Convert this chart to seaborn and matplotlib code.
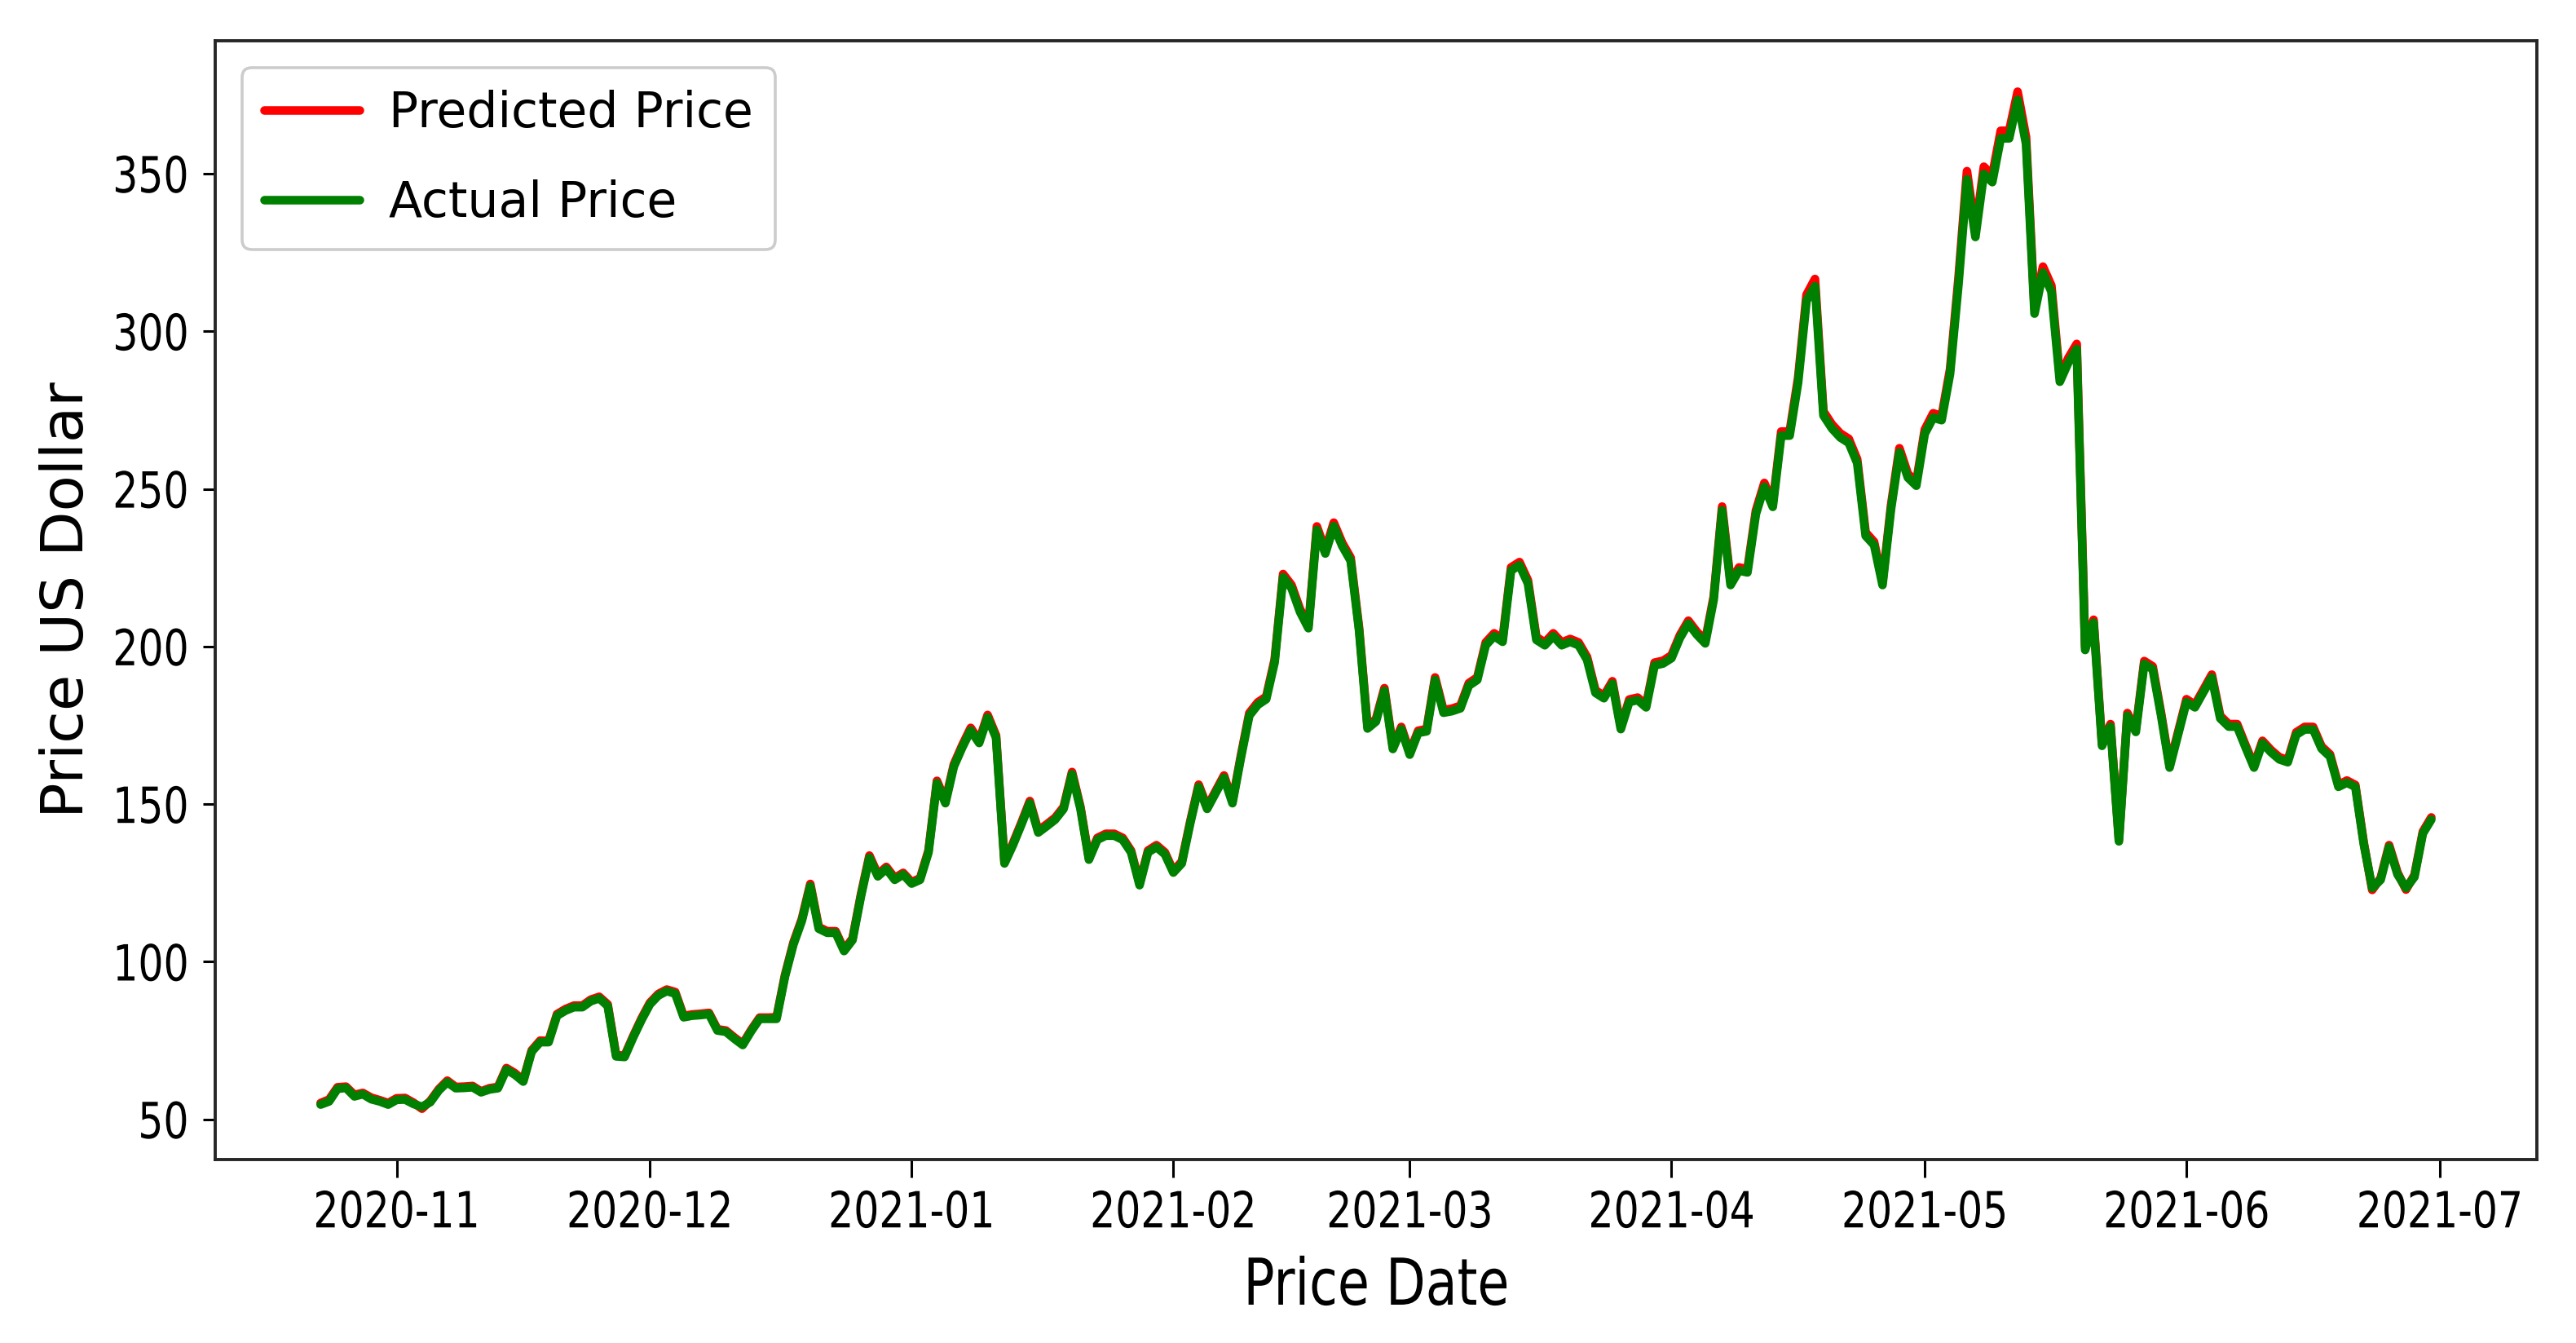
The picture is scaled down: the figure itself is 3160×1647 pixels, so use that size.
# Predicted vs actual price line chart (seaborn)
import pandas as pd
import seaborn as sns
import matplotlib
matplotlib.use('Agg')
import matplotlib.pyplot as plt
import matplotlib.dates as mdates
import matplotlib.patheffects as pe
from matplotlib.transforms import Affine2D

# daily prices, 2020-10-23 .. 2021-06-30
start_date = '2020-10-23'
end_date = '2021-06-30'

actual_price = [
    54.7, 55.7, 59.7, 60.0, 57.3, 58.0, 56.4, 55.7, 54.7, 56.2,
    56.3, 54.9, 54.0, 55.5, 59.2, 61.8, 59.9, 60.0, 60.2, 58.6,
    59.5, 59.9, 65.8, 64.2, 62.0, 71.5, 74.5, 74.5, 82.9, 84.5,
    85.6, 85.6, 87.5, 88.4, 86.0, 70.0, 69.8, 75.9, 81.5, 86.5,
    89.3, 90.7, 89.9, 82.4, 82.9, 83.1, 83.4, 78.2, 77.8, 75.6,
    73.6, 78.0, 81.9, 81.9, 81.9, 95.3, 105.5, 113.0, 124.0, 110.5,
    109.2, 109.2, 103.4, 106.9, 120.8, 133.0, 127.1, 129.5, 126.0, 127.7,
    124.8, 126.0, 134.7, 156.7, 150.3, 161.9, 168.0, 173.4, 169.4, 177.5,
    171.1, 131.2, 137.0, 143.5, 150.3, 141.0, 143.0, 145.1, 148.5, 159.5,
    148.5, 132.4, 138.7, 140.0, 140.0, 138.7, 134.7, 124.3, 134.7, 136.4,
    134.1, 128.3, 131.2, 143.9, 155.5, 148.5, 153.5, 158.4, 150.3, 164.7,
    178.1, 181.5, 183.3, 195.0, 222.0, 218.5, 211.0, 205.8, 237.0, 229.5,
    238.2, 231.9, 227.2, 205.0, 174.0, 176.2, 186.0, 167.5, 173.8, 165.7,
    172.6, 173.1, 189.4, 179.0, 179.5, 180.4, 187.6, 189.4, 200.4, 203.3,
    201.5, 224.1, 225.8, 220.0, 202.1, 200.4, 203.3, 200.4, 201.5, 200.4,
    195.8, 185.3, 183.6, 188.2, 173.8, 182.4, 183.0, 180.7, 194.0, 194.6,
    196.3, 202.7, 207.3, 203.8, 201.0, 214.8, 243.2, 219.5, 224.1, 223.5,
    242.0, 250.7, 244.3, 266.9, 266.9, 283.7, 309.7, 314.3, 273.3, 269.2,
    266.3, 264.6, 258.2, 235.1, 232.2, 219.5, 243.5, 261.6, 253.6, 251.0,
    267.5, 272.6, 271.8, 286.5, 315.0, 348.2, 329.9, 349.9, 347.3, 361.2,
    361.2, 373.4, 359.4, 305.6, 318.6, 312.6, 284.0, 290.0, 294.4, 198.9,
    207.6, 168.5, 174.6, 138.2, 178.1, 172.9, 194.5, 192.8, 178.0, 161.6,
    172.0, 182.4, 180.7, 185.5, 190.2, 177.2, 174.6, 174.6, 168.0, 161.6,
    169.4, 166.5, 164.2, 163.3, 172.0, 173.7, 173.7, 167.6, 165.1, 155.5,
    156.8, 155.5, 137.3, 123.4, 126.0, 136.4, 127.7, 123.4, 126.9, 140.7,
    145.1,
]

predicted_price = [
    55.2, 56.3, 60.2, 60.4, 57.8, 58.4, 56.9, 56.1, 55.2, 56.7,
    56.8, 55.3, 53.4, 55.9, 59.6, 62.3, 60.3, 60.4, 60.6, 58.9,
    59.9, 60.3, 66.3, 64.7, 62.4, 71.9, 75.0, 74.9, 83.4, 85.0,
    86.1, 86.1, 88.0, 88.9, 86.5, 70.4, 70.2, 76.3, 82.0, 87.0,
    89.8, 91.2, 90.4, 82.8, 83.3, 83.5, 83.8, 78.6, 78.2, 76.0,
    74.0, 78.4, 82.3, 82.3, 82.4, 95.8, 106.1, 113.6, 124.7, 111.0,
    109.7, 109.7, 103.8, 107.4, 121.4, 133.7, 127.7, 130.1, 126.6, 128.2,
    125.3, 126.5, 135.3, 157.4, 151.0, 162.6, 168.7, 174.2, 170.1, 178.3,
    171.8, 131.7, 137.6, 144.1, 151.0, 141.6, 143.6, 145.7, 149.1, 160.2,
    149.1, 132.9, 139.3, 140.6, 140.6, 139.3, 135.2, 124.8, 135.3, 137.0,
    134.7, 128.8, 131.8, 144.5, 156.2, 149.1, 154.1, 159.1, 150.9, 165.4,
    178.9, 182.3, 184.1, 195.9, 223.0, 219.5, 211.9, 206.7, 238.1, 230.5,
    239.3, 232.9, 228.2, 205.9, 174.7, 177.0, 186.8, 168.2, 174.5, 166.4,
    173.3, 173.8, 190.2, 179.8, 180.3, 181.2, 188.4, 190.2, 201.3, 204.2,
    202.4, 225.1, 226.8, 221.0, 203.0, 201.3, 204.2, 201.3, 202.4, 201.3,
    196.7, 186.1, 184.4, 189.0, 174.5, 183.2, 183.8, 181.5, 194.9, 195.5,
    197.2, 203.6, 208.2, 204.7, 201.9, 215.8, 244.4, 220.5, 225.1, 224.5,
    243.1, 251.9, 245.4, 268.2, 268.2, 285.2, 311.6, 316.6, 274.6, 270.5,
    267.6, 265.9, 259.4, 236.2, 233.2, 220.5, 244.7, 262.9, 254.8, 252.2,
    268.8, 274.0, 273.1, 288.0, 317.0, 350.8, 331.9, 352.2, 349.5, 363.6,
    363.6, 376.0, 361.6, 307.2, 320.5, 314.5, 285.5, 291.5, 296.0, 199.8,
    208.5, 169.2, 175.4, 138.7, 178.9, 173.7, 195.4, 193.7, 178.8, 162.3,
    172.8, 183.3, 181.5, 186.3, 191.1, 178.0, 175.4, 175.4, 168.7, 162.3,
    170.1, 167.2, 164.9, 164.0, 172.8, 174.5, 174.5, 168.3, 165.8, 156.1,
    157.5, 156.1, 137.8, 122.8, 126.6, 137.0, 128.3, 122.9, 127.5, 141.3,
    145.8,
]

df = pd.DataFrame({
    'Price Date': pd.date_range(start_date, end_date, freq='D'),
    'Predicted Price': predicted_price,
    'Actual Price': actual_price,
})


class Squeeze(pe.AbstractPathEffect):
    # the reference text is drawn narrow, so squeeze glyphs sideways
    def __init__(self, sx=0.8, anchor='center'):
        super().__init__()
        self.sx = sx
        self.anchor = anchor

    def draw_path(self, renderer, gc, tpath, affine, rgbFace=None):
        bb = tpath.get_extents(affine)
        x0 = {'left': bb.x0, 'right': bb.x1, 'center': (bb.x0 + bb.x1) / 2}[self.anchor]
        shrink = Affine2D().translate(-x0, 0).scale(self.sx, 1).translate(x0, 0)
        renderer.draw_path(gc, tpath, affine + shrink, rgbFace)


sns.set_style('ticks', rc={'text.color': 'black', 'xtick.color': 'black',
                           'ytick.color': 'black', 'axes.labelcolor': 'black'})
plt.rcParams['font.family'] = ['DejaVu Sans']

fig, ax = plt.subplots(figsize=(15.8, 8.235), dpi=200)
fig.subplots_adjust(left=0.0835, right=0.9848, top=0.9696, bottom=0.1366)

sns.lineplot(x='Price Date', y='Predicted Price', data=df, color='red',
             linewidth=3.8, label='Predicted Price', ax=ax)
sns.lineplot(x='Price Date', y='Actual Price', data=df, color='green',
             linewidth=3.8, label='Actual Price', ax=ax)

ax.xaxis.set_major_locator(mdates.MonthLocator())
ax.xaxis.set_major_formatter(mdates.DateFormatter('%Y-%m'))

ax.set_xlabel('Price Date', fontsize=28.5)
ax.set_ylabel('Price US Dollar', fontsize=26)
ax.xaxis.set_label_coords(0.5, -0.086)
ax.yaxis.set_label_coords(-0.0516, 0.5)

ax.tick_params(axis='x', length=7.9, width=1.1, labelsize=22, pad=5.5)
ax.tick_params(axis='y', length=5.4, width=1.1, labelsize=22, pad=6)
for sp in ax.spines.values():
    sp.set_linewidth(1.4)
    sp.set_color('#262626')

leg = ax.legend(loc='upper left', fontsize=21.6, frameon=True, fancybox=True,
                edgecolor='0.8', framealpha=1, handlelength=1.95,
                handletextpad=0.6, labelspacing=0.85, borderaxespad=0.55,
                borderpad=0.45)
leg.get_frame().set_linewidth(1.3)

fig.canvas.draw()
for lbl in ax.get_xticklabels():
    lbl.set_path_effects([Squeeze(0.8, 'center')])
for lbl in ax.get_yticklabels():
    lbl.set_path_effects([Squeeze(0.8, 'right')])
ax.xaxis.label.set_path_effects([Squeeze(0.8, 'center')])

fig.savefig('out.png', dpi=200)
